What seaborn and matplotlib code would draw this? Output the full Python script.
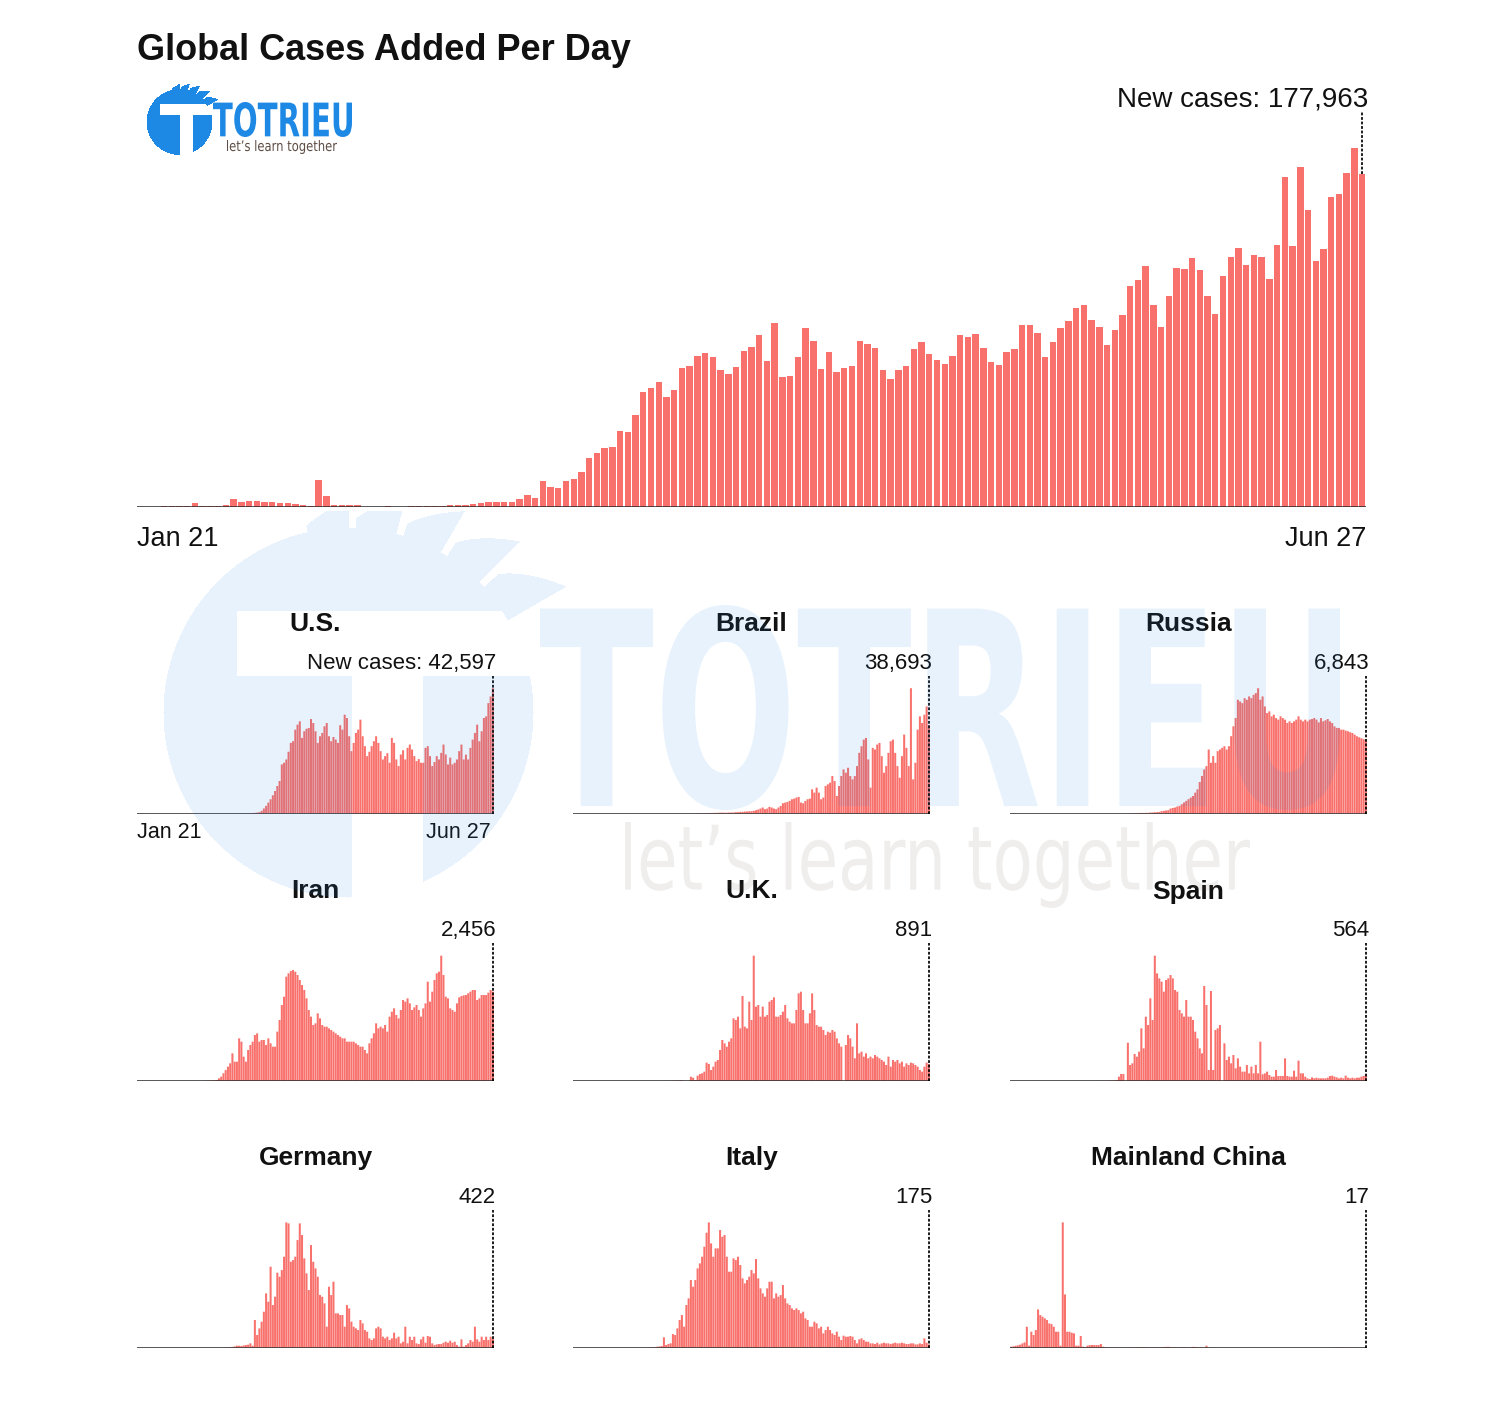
import numpy as np
import pandas as pd
import matplotlib
matplotlib.use("Agg")
import matplotlib.pyplot as plt
import seaborn as sns
import matplotlib.patheffects as pe
from matplotlib.transforms import Affine2D
from matplotlib.textpath import TextPath
from matplotlib.font_manager import FontProperties

# ---------------------------------------------------------------- data
start_date = "2020-01-21"
n_days = 159

global_cases = [
    120, 160, 240, 280, 360, 520, 640, 2100, 300, 800,
    800, 1000, 4300, 2700, 3200, 3200, 2700, 2700, 2100, 2100,
    1600, 1100, 300, 14400, 5900, 1100, 1100, 1000, 1000, 200,
    200, 200, 800, 200, 200, 300, 400, 500, 600, 800,
    1100, 1300, 1300, 1600, 1900, 2900, 2900, 2900, 2900, 4300,
    6400, 4800, 13900, 10700, 10100, 13900, 15000, 18700, 26200, 28800,
    31500, 32000, 40600, 40100, 49100, 61400, 63600, 66800, 58700, 62500,
    74200, 75300, 80700, 82300, 80100, 73200, 71000, 74800, 83300, 85400,
    91900, 78000, 98300, 69400, 70000, 80100, 95600, 88600, 73700, 82800,
    72100, 74200, 75300, 88600, 87000, 84900, 73200, 68300, 73200, 75300,
    84400, 88100, 81700, 78500, 76400, 80600, 91900, 90800, 92400, 84900,
    77400, 75800, 82800, 84400, 97200, 97200, 92900, 80100, 88100, 95600,
    99300, 106300, 107900, 99900, 96100, 86500, 94500, 102500, 118000, 121200,
    128700, 107900, 96100, 112700, 127600, 127100, 133000, 126600, 112700, 103100,
    123400, 133500, 138300, 129200, 134600, 133500, 121800, 139900, 176200, 139400,
    181600, 158600, 131400, 137800, 165500, 167100, 178400, 191700, 177963,
]

us_cases = [
    0, 0, 0, 0, 0, 0, 0, 0, 0, 0,
    0, 0, 0, 0, 0, 0, 0, 0, 0, 0,
    0, 0, 0, 0, 0, 0, 0, 0, 0, 0,
    0, 0, 0, 0, 0, 0, 0, 0, 0, 0,
    1, 2, 3, 5, 8, 15, 25, 40, 60, 80,
    120, 160, 220, 300, 450,
    900, 1700, 2600, 3700, 4850, 6200, 7660, 9350, 11040, 16680,
    17240, 18370, 21000, 24000, 24570, 28500, 30200, 31330, 25700, 27950,
    28800, 29080, 32120, 30770, 27950, 24000, 26260, 27390, 29640, 30770,
    26260, 24570, 26000, 25130, 24000, 30000, 28510, 33580, 32460, 26260,
    21190, 24000, 27390, 28510, 31890, 26260, 22880, 19500, 21000, 22880,
    24570, 26260, 24000, 21190, 18370, 19500, 20500, 17240, 25700, 24000,
    18370, 16120, 20060, 21500, 18370, 22310, 23440, 21750, 19500, 17810,
    18500, 17240, 17240, 22310, 22880, 19500, 16120, 17500, 19500, 18370,
    20620, 23440, 20060, 16680, 19000, 16680, 17240, 18370, 21190, 23440,
    18370, 20000, 18370, 22310, 25130, 27390, 30200, 24570, 27950, 32460,
    33020, 37530, 39780, 42597,
]

brazil_cases = [
    0, 0, 0, 0, 0, 0, 0, 0, 0, 0,
    0, 0, 0, 0, 0, 0, 0, 0, 0, 0,
    0, 0, 0, 0, 0, 0, 0, 0, 0, 0,
    0, 0, 0, 0, 0, 0,
    1, 0, 0, 1, 0, 1, 0, 0, 2, 0, 5, 5, 7, 12,
    10, 20, 30, 50, 35, 70, 100, 80, 110, 180,
    200, 230, 250, 280, 300, 350, 400, 330, 350, 400,
    430, 430, 580, 580, 725, 725, 870, 870, 1010, 1010,
    1160, 1450, 1740, 2170, 2610, 1880, 2170, 2900, 2610, 2170,
    1880, 2610, 3330, 4490, 4780, 5070, 5510, 6230, 6520, 6960,
    7250, 4780, 4490, 5510, 6230, 6520, 10580, 9130, 11300, 9130,
    6230, 6960, 12030, 12750, 13480, 16370, 14200, 7680, 12030, 16370,
    19270, 17820, 20000, 16370, 14920, 16370, 20720, 26520, 29410, 32310,
    33040, 23620, 11300, 28690, 27970, 30140, 30860, 25070, 17820, 20720,
    26520, 31590, 32310, 26520, 20720, 15650, 25070, 34490, 28690, 20720,
    54771, 14920, 22170, 36660, 42460, 39560, 43180, 46800, 38693,
]

russia_cases = [
    0, 0, 0, 0, 0, 0, 0, 0, 0, 0,
    2, 0, 0, 0, 0, 0, 0, 0, 0, 0,
    0, 0, 0, 0, 0, 0, 0, 0, 0, 0,
    0, 0, 0, 0, 0, 0, 0, 0, 0, 0,
    0, 2, 0, 3, 1, 2, 4, 0, 3, 6,
    7, 3, 10, 6, 20, 30, 33, 52, 54, 53,
    60, 60, 90, 90, 120, 120, 150, 220, 250, 280, 310,
    460, 520, 560, 650, 710, 860, 1020, 1170, 1330, 1480,
    1630, 1940, 2250, 2930, 3490, 4100, 4410, 5950, 4720, 5340,
    4720, 5800, 5950, 6110, 6260, 5950, 6260, 7190, 8110, 8880,
    10580, 10420, 10270, 10730, 10580, 10890, 10730, 11040, 11200, 11656,
    10580, 10890, 9960, 9340, 9500, 9040, 9190, 8880, 8730, 9040,
    8880, 8730, 8420, 8570, 8420, 8570, 8730, 9040, 8730, 8570,
    8730, 8570, 8730, 8790, 8880, 8730, 8480, 8880, 8570, 8670,
    8790, 8570, 8420, 8110, 7960, 7960, 7800, 7800, 7710, 7650,
    7560, 7490, 7340, 7190, 7090, 7000, 6910, 6843,
]

iran_cases = [
    0, 0, 0, 0, 0, 0, 0, 0, 0, 0,
    0, 0, 0, 0, 0, 0, 0, 0, 0, 0,
    0, 0, 0, 0, 0, 0, 0, 0, 0,
    2, 3, 8, 10, 14, 18,
    27, 73, 119, 211, 300, 394, 485, 760, 531, 531,
    1172, 1081, 669, 531, 852, 989, 1081, 1264, 1310, 1081,
    1127, 1127, 989, 1172, 1035, 943, 943, 1356, 1676, 2088,
    2317, 2867, 2959, 3023, 3050, 3004, 2913, 2775, 2638, 2501,
    2272, 1951, 1768, 1539, 1585, 1860, 1722, 1539, 1493, 1493,
    1447, 1402, 1356, 1310, 1264, 1218, 1172, 1172, 1081, 1081,
    1081, 1081, 1035, 989, 943, 943, 852, 760, 1035, 1172,
    1310, 1585, 1447, 1493, 1447, 1539, 1356, 1768, 1905, 1997,
    1814, 1722, 1951, 2226, 2180, 2272, 2134, 1951, 2024, 2088,
    1951, 1768, 1997, 2134, 2730, 2180, 2455, 2775, 2959, 3004,
    3444, 2913, 2317, 2272, 1997, 1951, 1905, 2134, 2299, 2336,
    2354, 2363, 2409, 2455, 2501, 2501, 2226, 2272, 2363, 2363,
    2363, 2427, 2501, 2456,
]

uk_cases = [
    0, 0, 0, 0, 0, 0, 0, 0, 0, 0,
    2, 0, 0, 0, 0, 0, 0, 0, 0, 0,
    0, 0, 0, 0, 0, 0, 0, 0, 0, 0,
    0, 0, 0, 0, 0, 0, 0, 0, 0, 0,
    0, 0, 10, 5, 10, 20, 15, 25, 30, 0, 0, 0,
    228, 175, 50, 280, 368, 403, 490, 963, 893, 578,
    753, 1015, 1103, 1628, 2153, 1978, 1803, 2065, 2240, 3290,
    3203, 3378, 2765, 4463, 2853, 2765, 4165, 3203, 6580, 3903,
    3990, 3378, 3903, 3378, 3465, 4165, 4253, 4393, 3378, 3378,
    3465, 3640, 3990, 3290, 3115, 3028, 3028, 3728, 4603, 4690,
    3728, 3028, 3028, 3553, 4603, 3728, 2940, 2853, 2853, 2678,
    2415, 2590, 2538, 2678, 2590, 2240, 1978, 1803, 0, 1890,
    2415, 2240, 1803, 1190, 3028, 1453, 1540, 1278, 1453, 1190,
    1278, 1190, 1365, 1278, 1190, 1103, 1015, 840, 1278, 753,
    1103, 1015, 1103, 928, 1015, 753, 928, 840, 963, 928,
    840, 753, 578, 490, 753, 963, 891,
]

spain_cases = [
    0, 0, 0, 0, 0, 0, 0, 0, 0, 0,
    0, 0, 0, 0, 0, 0, 0, 0, 0, 0,
    0, 0, 0, 0, 0, 0, 0, 0, 0, 0,
    0, 0, 0, 0, 0, 0, 0, 0,
    2, 3, 5, 8, 10, 15, 20, 30, 45, 60,
    367, 592, 592, 0, 3243, 1354, 1495, 2284, 2059, 2482,
    4456, 2764, 5443, 4738, 6994, 5161, 10603, 9109, 8686, 8404,
    7558, 8545, 8686, 8968, 8686, 7699, 7558, 6007, 5725, 5443,
    6853, 5443, 5443, 5161, 4174, 3610, 2764, 2341, 8037, 6430,
    931, 7614, 931, 4315, 4456, 4738, 0, 3187, 1777, 2059,
    1495, 2200, 1072, 1918, 1213, 790, 790, 1354, 649, 1213,
    649, 1354, 649, 3328, 564, 649, 790, 508, 367, 367,
    931, 423, 423, 423, 1918, 423, 367, 367, 874, 367,
    1720, 649, 649, 367, 226, 169, 310, 226, 282, 226,
    226, 226, 226, 282, 423, 451, 367, 310, 226, 282,
    226, 451, 282, 226, 282, 226, 282, 282, 367, 423,
    564,
]

germany_cases = [
    0, 0, 0, 0, 0, 0, 0,
    1, 3, 0, 1, 1, 0, 0, 0, 0, 0,
    0, 0, 0, 0, 0, 0, 0, 0, 0, 0,
    0, 0, 0, 0, 0, 0, 0, 0, 0, 0,
    0, 0, 5, 10, 20, 40, 60,
    96, 96, 80, 112, 128, 144, 208, 96, 1328, 608,
    928, 1248, 1728, 2608, 2208, 3888, 2048, 2448, 3600, 3408,
    3728, 4368, 6016, 5968, 4128, 4208, 4368, 5168, 5968, 5408,
    4288, 3568, 2768, 4928, 4128, 3808, 3408, 2528, 2448, 2128,
    1008, 2928, 2528, 3168, 1648, 1648, 1568, 1568, 1008, 2048,
    1888, 1248, 1008, 928, 848, 1328, 1168, 848, 768, 448,
    368, 448, 928, 1008, 928, 528, 448, 528, 368, 448,
    720, 448, 528, 208, 288, 1008, 208, 528, 368, 528,
    208, 176, 400, 528, 240, 560, 528, 208, 128, 160,
    176, 176, 240, 288, 240, 336, 240, 288, 128, 48,
    400, 48, 128, 208, 368, 288, 1008, 400, 288, 528,
    368, 528, 368, 528, 422,
]

italy_cases = [
    0, 0, 0, 0, 0, 0, 0, 0, 0, 0,
    0, 0, 0, 0, 0, 0, 0, 0, 0, 0,
    0, 0, 0, 0, 0, 0, 0, 0, 0, 0,
    0, 3, 5, 10, 15, 20, 30,
    52, 70, 87, 541, 140, 192, 227, 715, 663, 1012,
    1448, 1709, 1099, 2232, 2581, 3540, 3192, 3540, 4151, 4412,
    4761, 5284, 6017, 6557, 5459, 4761, 5197, 5197, 6156, 5808,
    5895, 4761, 3976, 3976, 4674, 4587, 4761, 4325, 3628, 3366,
    3540, 3715, 4064, 3889, 4639, 3628, 3104, 2843, 2668, 3104,
    3453, 3453, 2581, 2843, 2668, 2756, 3279, 2581, 2320, 2232,
    2058, 1971, 2058, 1971, 1796, 1884, 1535, 1448, 1099, 1099,
    1360, 1273, 1012, 1099, 750, 924, 1099, 924, 750, 663,
    837, 576, 401, 628, 576, 576, 610, 576, 401, 227,
    436, 488, 401, 314, 314, 227, 227, 192, 262, 174,
    227, 262, 227, 227, 192, 227, 262, 227, 227, 262,
    227, 192, 192, 227, 227, 174, 174, 227, 192, 488,
    262, 175,
]

china_cases = [
    120, 160, 240, 280, 360, 520, 640, 2530, 240, 1930,
    1530, 2130, 4620, 3940, 3740, 3540, 3340, 2930, 2850, 2530,
    1930, 1930, 240, 15133, 6430, 1930, 1930, 1810, 1730, 240,
    240, 1410, 120, 80, 240, 320, 320, 320, 320, 320,
    440, 120, 80,
    40, 30, 25, 20, 25, 20, 15, 10, 20, 25,
    30, 25, 40, 40, 60, 45, 80, 50, 40, 30,
    50, 45, 35, 35, 60, 80, 100, 110, 70, 50,
    40, 30, 35, 60, 45, 30, 20, 60, 100, 90,
    60, 45, 30, 25, 240, 30, 20, 15, 10, 15,
    20, 10, 10, 5, 10, 5, 5, 5, 10, 15,
    5, 5, 5, 10, 15, 15, 5, 5, 10, 8,
    5, 10, 5, 5, 5, 5, 5, 5, 5, 5,
    5, 5, 5, 5, 5, 5, 5, 5, 10, 10,
    5, 5, 5, 5, 5, 5, 5, 5, 10, 10,
    15, 30, 40, 50, 30, 25, 20, 25, 30, 25,
    20, 15, 10, 15, 20, 17,
]

panel_names = ["U.S.", "Brazil", "Russia", "Iran", "U.K.", "Spain",
               "Germany", "Italy", "Mainland China"]
panel_series = [us_cases, brazil_cases, russia_cases, iran_cases, uk_cases,
                spain_cases, germany_cases, italy_cases, china_cases]

chart_title = "Global Cases Added Per Day"
brand_name = "TOTRIEU"
brand_slogan = "let\u2019s learn together"

# ---------------------------------------------------------------- style
sns.set_theme(style="white")
plt.rcParams["font.family"] = ["Liberation Sans", "DejaVu Sans"]

W, H, DPI = 1500, 1401, 100
fig = plt.figure(figsize=(W / DPI, H / DPI), dpi=DPI, facecolor="white")

BAR = "#f8716c"
INK = "#111111"
LINE = "#2a2a2a"
BLUE = "#1e88e5"

dates = pd.date_range(start_date, periods=n_days)


def fmt_date(d):
    return f"{d:%b} {d.day}"


def px_axes(left, top, right, bottom):
    return fig.add_axes([left / W, 1 - bottom / H, (right - left) / W, (bottom - top) / H])


def draw_bars(ax, values, width, head, snap=True):
    df = pd.DataFrame({"day": np.arange(len(values)), "cases": values})
    sns.barplot(data=df, x="day", y="cases", color=BAR, saturation=1, width=width,
                edgecolor="none", linewidth=0, errorbar=None, ax=ax, zorder=2, snap=snap)
    ax.set_xlim(-0.5, len(values) - 0.5)
    top = max(values) * head
    ax.set_ylim(0, top)
    ax.set_axis_off()
    ax.axhline(0, color=LINE, lw=1.1, zorder=4)
    return top


DOTS = (0, (1.6, 1.0))

# ---------------------------------------------------------------- main chart
main_ax = px_axes(137, 112, 1366, 507)
top = draw_bars(main_ax, global_cases, 0.83, 1.10)
last = len(global_cases) - 1
main_ax.vlines(last, global_cases[-1], top, colors="black", linestyles=DOTS, lw=1.25, zorder=1)
main_ax.annotate(f"New cases: {global_cases[-1]:,}", xy=(last, top), xytext=(4.2, 4.3),
                 textcoords="offset points", ha="right", va="baseline", fontsize=20, color=INK)
main_ax.text(0, -39 / 395, fmt_date(dates[0]), transform=main_ax.transAxes,
             ha="left", va="baseline", fontsize=19.5, color=INK)
main_ax.text(1, -39 / 395, fmt_date(dates[-1]), transform=main_ax.transAxes,
             ha="right", va="baseline", fontsize=19.5, color=INK)

fig.text(137 / W, 1 - 60 / H, chart_title, fontsize=26, fontweight="bold",
         ha="left", va="baseline", color=INK)

# ---------------------------------------------------------------- small multiples
col_left = [137, 573, 1010]
panel_w = 357
row_base = [813.5, 1081, 1347.7]
panel_h = 138
for k, (name, vals) in enumerate(zip(panel_names, panel_series)):
    r, c = divmod(k, 3)
    L, B = col_left[c], row_base[r]
    ax = px_axes(L, B - panel_h, L + panel_w, B)
    top = draw_bars(ax, vals, 0.9, panel_h / 125.3, snap=False)
    last = len(vals) - 1
    ax.vlines(last, 0, top, colors="black", linestyles=DOTS, lw=1.25, zorder=5)
    label = f"New cases: {vals[-1]:,}" if k == 0 else f"{vals[-1]:,}"
    ax.annotate(label, xy=(last, top), xytext=(2.3, 4.7), textcoords="offset points",
                ha="right", va="baseline", fontsize=16, color=INK)
    ax.text(0.5, 1 + 44.5 / panel_h, name, transform=ax.transAxes, ha="center",
            va="baseline", fontsize=19, fontweight="bold", color=INK)
    if k == 0:
        ax.text(0, -24.8 / panel_h, fmt_date(dates[0]), transform=ax.transAxes,
                ha="left", va="baseline", fontsize=15.5, color=INK)
        ax.text((491 - L) / panel_w, -24.8 / panel_h, fmt_date(dates[-1]),
                transform=ax.transAxes, ha="right", va="baseline", fontsize=15.5, color=INK)

# ---------------------------------------------------------------- logo / watermark
yy, xx = np.mgrid[0:H, 0:W].astype(np.float32)


def logo_mask(cx, cy, R, ymin=None):
    dx = xx - cx
    dy = yy - cy
    rr = np.hypot(dx, dy)
    circ = rr <= R
    tbar = (xx >= cx - 0.6 * R) & (xx <= cx + 1.05 * R) & (yy >= cy - 0.55 * R) & (yy <= cy - 0.2 * R)
    stem = (xx >= cx + 0.02 * R) & (xx <= cx + 0.4 * R) & (yy >= cy - 0.2 * R)
    theta = np.degrees(np.arctan2(-dy, dx))
    env = R * (0.36 - 0.26 * np.clip((theta - 30) / 75, 0, 1))
    p = ((theta - 30) / 15) % 1.0
    tongue = env * (1 - p) ** 0.6
    flame = (rr > R - 1) & (rr < R + tongue) & (theta > 30) & (theta < 105) & (p < 0.85)
    if ymin is not None:
        flame &= yy > ymin
    return (circ & ~(tbar | stem)) | flame


rgba = np.zeros((H, W, 4), dtype=np.uint8)
big = logo_mask(348, 712, 185, ymin=510)
small = logo_mask(179, 121.5, 33)
rgba[big] = [30, 136, 229, 26]
rgba[small] = [30, 136, 229, 255]
fig.figimage(rgba, xo=0, yo=0, origin="upper", zorder=10)


class Stretch(pe.AbstractPathEffect):
    """Draws the glyph outlines taller (about the baseline), like the logo's narrow lettering."""

    def __init__(self, y_ref, sy):
        super().__init__()
        self.y_ref, self.sy = y_ref, sy

    def draw_path(self, renderer, gc, tpath, affine, rgbFace=None):
        extra = Affine2D().translate(0, -self.y_ref).scale(1.0, self.sy).translate(0, self.y_ref)
        renderer.draw_path(gc, tpath, affine + extra, rgbFace)


def fit_text(s, x0, y0, x1, y1, color, alpha=1.0, weight="bold", family="DejaVu Sans"):
    fp = FontProperties(family=family, weight=weight)
    e = TextPath((0, 0), s, size=100, prop=fp).get_extents()
    k = (x1 - x0) / e.width            # px per path unit, width fitted exactly
    sy = (y1 - y0) / (e.height * k)    # extra vertical stretch
    base_y = y1 + e.y0 * k * sy        # baseline (image px, from top)
    place_x = x0 - e.x0 * k
    fig.text(place_x / W, 1 - base_y / H, s, family=family, fontweight=weight,
             fontsize=k * 100 * 72 / DPI, color=color, alpha=alpha, ha="left",
             va="baseline", zorder=11, path_effects=[Stretch(H - base_y, sy)])


fit_text(brand_name, 213, 102, 352, 137, BLUE)
fit_text(brand_slogan, 227, 140, 337, 154, "#5d4d44", weight="normal")
fit_text(brand_name, 540, 605, 1340, 810, BLUE, alpha=0.1)
fit_text(brand_slogan, 625, 822, 1250, 908, "#6a5a50", alpha=0.1, weight="normal")

fig.savefig("out.png", dpi=DPI, facecolor="white")
